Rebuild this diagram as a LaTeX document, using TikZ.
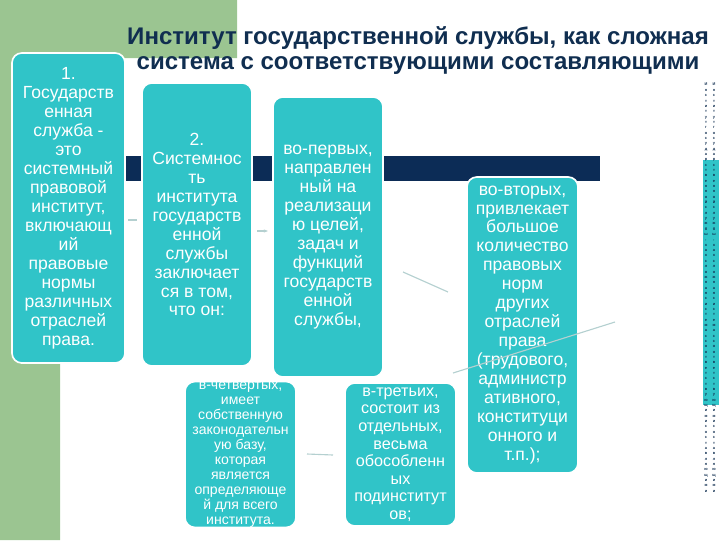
\documentclass[tikz,border=0pt]{standalone}
\usepackage{fontspec}
\setmainfont{Liberation Sans}
\usetikzlibrary{arrows.meta}
\definecolor{tealbox}{RGB}{48,196,200}
\definecolor{slidegreen}{RGB}{155,197,145}
\definecolor{navybar}{RGB}{12,44,86}
\definecolor{titlenavy}{RGB}{16,46,80}
\definecolor{linkgray}{RGB}{180,208,208}
% one letter per line, spaces dropped
\def\stackchars#1{\ifx#1\relax\else#1\\\expandafter\stackchars\fi}
\newcommand{\thumbtext}{\stackchars Институт государственной службы, как сложная система с соответствующими составляющими\relax}

\begin{document}
\begin{tikzpicture}[x=0.025cm,y=-0.025cm,
  box/.style 2 args={draw=white,line width=1.2pt,rounded corners=7pt,fill=tealbox,text=white,align=center,
    inner sep=0pt,minimum width=#1*0.025cm,minimum height=#2*0.025cm,font=\fontsize{12.5}{13.5}\selectfont},
  thumb/.style={anchor=north,inner sep=0pt,align=center,font=\bfseries\fontsize{2.8}{3.8}\selectfont,text=titlenavy},
  link/.style={draw=linkgray,line width=0.8pt}, >={Stealth[length=3pt]}]
  \useasboundingbox (0,0) rectangle (720,540);
  \fill[slidegreen] (0,0) -- (237,0) -- (237,58) -- (60,58) -- (60,540) -- (0,540) -- cycle;
  \fill[navybar] (100,156) rectangle (600,181);
  \fill[tealbox] (703,160) rectangle (719,405);
  \node[font=\bfseries\fontsize{17.1}{17.7}\selectfont,text=titlenavy,align=center] (title) at (418,50.5)
    {Институт государственной службы, как сложная\\система с соответствующими составляющими};
  \node[box={113}{310}] (sys) at (68.5,208) {1.\\Государств\\енная\\служба -\\это\\системный\\правовой\\институт,\\включающ\\ий\\правовые\\нормы\\различных\\отраслей\\права.};
  \node[box={110}{283}] (essence) at (197,224.5) {2.\\Системнос\\ть\\института\\государств\\енной\\службы\\заключает\\ся в том,\\что он:};
  \node[box={110}{280}] (first) at (328,237) {во-первых,\\направлен\\ный на\\реализаци\\ю целей,\\задач и\\функций\\государств\\енной\\службы,};
  \node[box={111}{296}] (second) at (522.5,325) {во-вторых,\\привлекает\\большое\\количество\\правовых\\норм\\других\\отраслей\\права\\(трудового,\\администр\\ативного,\\конституци\\онного и\\т.п.);};
  \node[box={111}{145},font=\fontsize{10}{10.7}\selectfont] (fourth) at (240.5,454.5) {в-четвертых,\\имеет\\собственную\\законодательн\\ую базу,\\которая\\является\\определяюще\\й для всего\\института.};
  \node[box={111}{143},font=\fontsize{11.5}{12.5}\selectfont] (third) at (400.5,454.5) {в-третьих,\\состоит из\\отдельных,\\весьма\\обособленн\\ых\\подинститут\\ов;};
  \node[thumb] (thumba) at (706,83) {\thumbtext};
  \node[thumb] (thumbb) at (714,83) {\thumbtext};
  % loose connector strokes
  \coordinate (a1) at (128,220); \coordinate (a2) at (137,220);
  \coordinate (b1) at (257,231); \coordinate (b2) at (268,231);
  \coordinate (c1) at (403,272); \coordinate (c2) at (448,292);
  \coordinate (d1) at (453,373); \coordinate (d2) at (615,322);
  \coordinate (e1) at (307,454); \coordinate (e2) at (333,455);
  \draw[link] (a1) -- (a2);
  \draw[link,->] (b1) -- (b2);
  \draw[link] (c1) -- (c2);
  \draw[link] (d1) -- (d2);
  \draw[link] (e1) -- (e2);
\end{tikzpicture}
\end{document}
